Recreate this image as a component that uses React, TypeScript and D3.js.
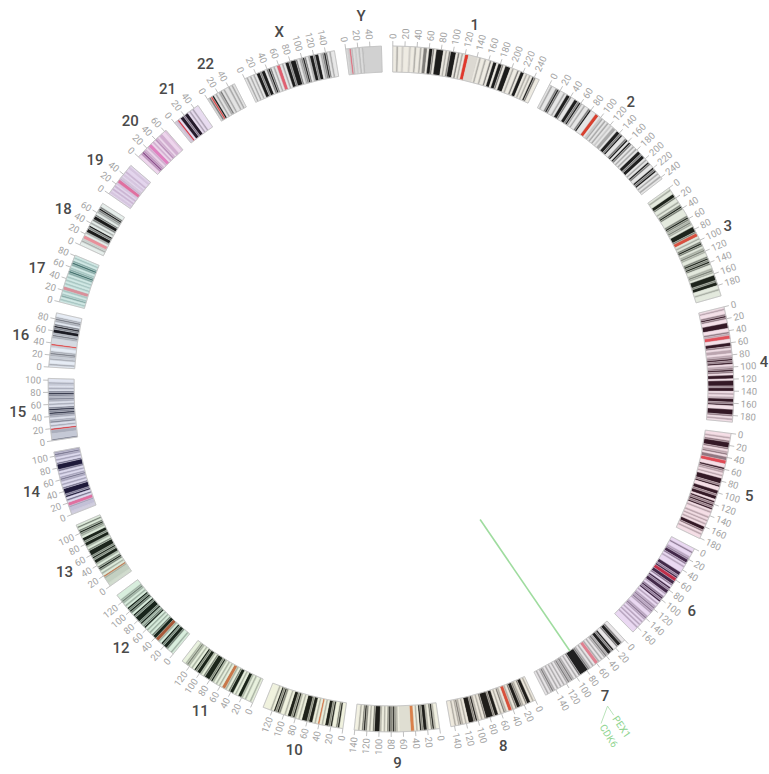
import React from 'react';
import * as d3 from 'd3';

const chromNames = ['1','2','3','4','5','6','7','8','9','10','11','12','13','14','15','16','17','18','19','20','21','22','X','Y'];
const chromSizes = [249,243,198,191,181,171,159,146,141,136,135,134,115,107,103,90,81,78,59,63,48,51,155,59];

// stain per equal-size slice: 0 gneg, 1-4 gpos25..100, r acen, v gvar
const chromBands = [
  "002 00 1 000 1 00 2 00 2 0 33 0 443 0 4444 0 2 0 3 444 0 3 0 2 0 rr vvvvv 0 2 00 2 00 3 0 44 0 443 0 444 0 2 00 3 0 44 0 2 0 2 0 43 00",
  "0200 3430 020 443 00 4434 202 00 340 00 rr 01 202 020 102 20 4434 00 34043 02 020 44344 020 43 00 434 02020",
  "02 00 4430 020 343 0000 343232 0 4443 rr 020 3430 232 00 34343 00 232 0 444344 00 20 00",
  "0200 343 00 444 00 32 rr 00 443 02 202 3434 02 343 0 44 0 444344 02 02 4434 00 4443 020",
  "002 03 4443 02 303 3 rr 00 43 2020 44434 00 44344 0 43434 0200 202 020 443 0200",
  "00 30 02 3443 0200 0 4434 rr 443 0 4344 20 3434 020 23232 00 232 020 202 000",
  "00 3443 00 4344 232 020 2r r 0202 3444 443 020 23232 020 2020 232 020",
  "020 443 02 3443 02 rr 02 3020 4434 4443 0202 43444 020 232 0200",
  "002 43 02 4434 020 rr vvvvvv 02 34343 0202 4443 020 343 0200",
  "00 43 00 4344 020 r 020 443444 0202 4344 0200 3434 020 000",
  "0200 202 44 020 443 02 rr 020 202 434443 02 4434 020 232 00",
  "0200 34434 02 rr 443 02020 432 4344434 0 3434 020 232 000",
  "vv 11 12 r 020 343 02 443 434443 02 44344 02 343 030",
  "vv 11 2r r 030 434 443 020 232 020 34443 020 232",
  "3 111 22 r 020 32 02 34343 020 232 343 020 1200",
  "020 02 12 32 001 r vvv 232 44 343 02 32 00",
  "020 32 02 rr 020 202 0343 20 343 020",
  "00 21 rr 02 4434 020 3443 02 343 00",
  "010 202 01 rr 2v 010 20 010",
  "00 3432 02 rr 020 32 02 20 01",
  "v1r0 4434 4020 2000",
  "v3r4 0202 3020 0202 0",
  "0202 020 44344 0 343 020 rr 020 4434443 02 343 02 44344 02 343 0200",
  "01r2 0102 02vv vvvv vvvv"
];

const chromTints = ['#eeebe2','#e6e6e6','#e3e9dd','#f4e0e8','#f5dee6','#ead8f2','#e9e6e8','#efeade','#f2f1e2','#f0f2de','#e9f2de','#d8eedd','#e0eedd','#e0ddf2','#e0e4f0','#e6ecf5','#d2ece8','#e6eeeb','#e4d5ee','#eed5ed','#e8dcf0','#e4e4e4','#e8e8e8','#e0e0e0'];
const chromDarks = ['#111111','#151515','#141a12','#2a0f1c','#2a0f1c','#3a2040','#161616','#141210','#141410','#141610','#101a10','#0e1a12','#121a12','#141030','#202438','#101018','#3a6a66','#101010','#8a5a90','#8a4a8a','#1a1020','#141414','#111111','#666666'];
const cenColors = ['#e0382c','#d8402f','#d9503f','#e0505a','#e04a55','#c0304a','#e08090','#d8503a','#d9804a','#d8784a','#c8784a','#a85a3a','#c0805a','#e070a0','#d83a40','#e04a4a','#d8909a','#e8909a','#e070a0','#e080c0','#d84050','#e04848','#e06070','#e07080'];

const tickStep = 20;
const linkChrom = '7';
const linkPos = 85;
const geneNames = ['PEX1', 'CDK6'];

const W = 769, H = 774;
const cx = 391, cy = 389;
const rIn = 317, rOut = 343;
const gapDeg = 1.9, startDeg = 0.3;

function runs(str: string, size: number) {
  const s = str.replace(/\s/g, '');
  const n = s.length, w = size / n;
  const out: { s: number; e: number; c: string }[] = [];
  let j = 0;
  while (j < n) {
    let k = j;
    while (k < n && s[k] === s[j]) k++;
    out.push({ s: j * w, e: k * w, c: s[j] });
    j = k;
  }
  return out;
}

export default function App() {
  const total = d3.sum(chromSizes);
  const degPerMb = (360 - gapDeg * chromSizes.length) / total;
  const starts: number[] = [];
  let acc = startDeg;
  chromSizes.forEach((s) => { starts.push(acc); acc += s * degPerMb + gapDeg; });
  const ang = (i: number, mb: number) => starts[i] + mb * degPerMb;
  const rad = (d: number) => (d * Math.PI) / 180;
  const pt = (a: number, r: number) => [cx + r * Math.sin(rad(a)), cy - r * Math.cos(rad(a))];
  const arc = d3.arc<any>();
  const radialText = (a: number, r: number) => {
    const [x, y] = pt(a, r);
    const norm = ((a % 360) + 360) % 360;
    const flip = norm > 180;
    return { x, y, rot: flip ? norm + 90 : norm - 90, anchor: flip ? 'end' : 'start' };
  };

  const colorFor = (i: number, c: string) => {
    const tint = chromTints[i], dark = chromDarks[i];
    const mix = d3.interpolateRgb(tint, dark);
    switch (c) {
      case '1': return mix(0.14);
      case '2': return mix(0.28);
      case '3': return mix(0.5);
      case '4': return mix(0.95);
      case 'r': return cenColors[i];
      case 'v': return d3.interpolateRgb(tint, '#9a9a9a')(0.22);
      default: return tint;
    }
  };

  const li = chromNames.indexOf(linkChrom);
  const la = ang(li, linkPos);
  const [lx1, ly1] = pt(la, 158);
  const [lx2, ly2] = pt(la, rIn);

  return (
    <svg width={W} height={H} style={{ position: 'absolute', left: 0, top: 0, background: '#fff' }}>
      <rect width={W} height={H} fill="#fff" />
      {chromNames.map((name, i) => {
        const size = chromSizes[i];
        const bands = runs(chromBands[i], size);
        const stroke = d3.rgb(chromTints[i]).darker(0.35).formatHex();
        const ticks = d3.range(0, size + 0.001, tickStep);
        const mid = ang(i, size / 2);
        const [tx, ty] = pt(mid, 374);
        return (
          <g key={name}>
            {bands.map((b, j) => (
              <path key={j}
                transform={`translate(${cx},${cy})`}
                d={arc({ innerRadius: rIn, outerRadius: rOut, startAngle: rad(ang(i, b.s)), endAngle: rad(ang(i, b.e)) }) as string}
                fill={colorFor(i, b.c)} stroke={stroke} strokeWidth={0.35} />
            ))}
            <path transform={`translate(${cx},${cy})`}
              d={arc({ innerRadius: rIn, outerRadius: rOut, startAngle: rad(ang(i, 0)), endAngle: rad(ang(i, size)) }) as string}
              fill="none" stroke="#c4c4c4" strokeWidth={0.9} />
            {ticks.map((t) => {
              const a = ang(i, t);
              const [x1, y1] = pt(a, rOut);
              const [x2, y2] = pt(a, rOut + 5);
              const lt = radialText(a, rOut + 7);
              return (
                <g key={t}>
                  <line x1={x1} y1={y1} x2={x2} y2={y2} stroke="#b0b0b0" strokeWidth={0.8} />
                  <text x={lt.x} y={lt.y} transform={`rotate(${lt.rot},${lt.x},${lt.y})`} textAnchor={lt.anchor}
                    dominantBaseline="central" fontSize={9.5} fill="#a3a3a3" fontFamily="Roboto, sans-serif">{t}</text>
                </g>
              );
            })}
            <text x={tx} y={ty} textAnchor="middle" dominantBaseline="central" fontSize={15} fontWeight={500}
              fill="#4a4a4a" fontFamily="Roboto, sans-serif">{name}</text>
          </g>
        );
      })}
      <line x1={lx1} y1={ly1} x2={lx2} y2={ly2} stroke="#9fdc9f" strokeWidth={1.6} />
      {geneNames.map((g, k) => {
        const a2 = la + k * 2.2;
        const [x1, y1] = pt(la, 384);
        const [x2, y2] = pt(a2, 395);
        const lt = radialText(a2, 397);
        return (
          <g key={g}>
            <line x1={x1} y1={y1} x2={x2} y2={y2} stroke="#a8dca8" strokeWidth={0.8} />
            <text x={lt.x} y={lt.y} transform={`rotate(${lt.rot},${lt.x},${lt.y})`} textAnchor={lt.anchor}
              dominantBaseline="central" fontSize={10} fill="#8fd48f" fontFamily="Roboto, sans-serif">{g}</text>
          </g>
        );
      })}
    </svg>
  );
}
